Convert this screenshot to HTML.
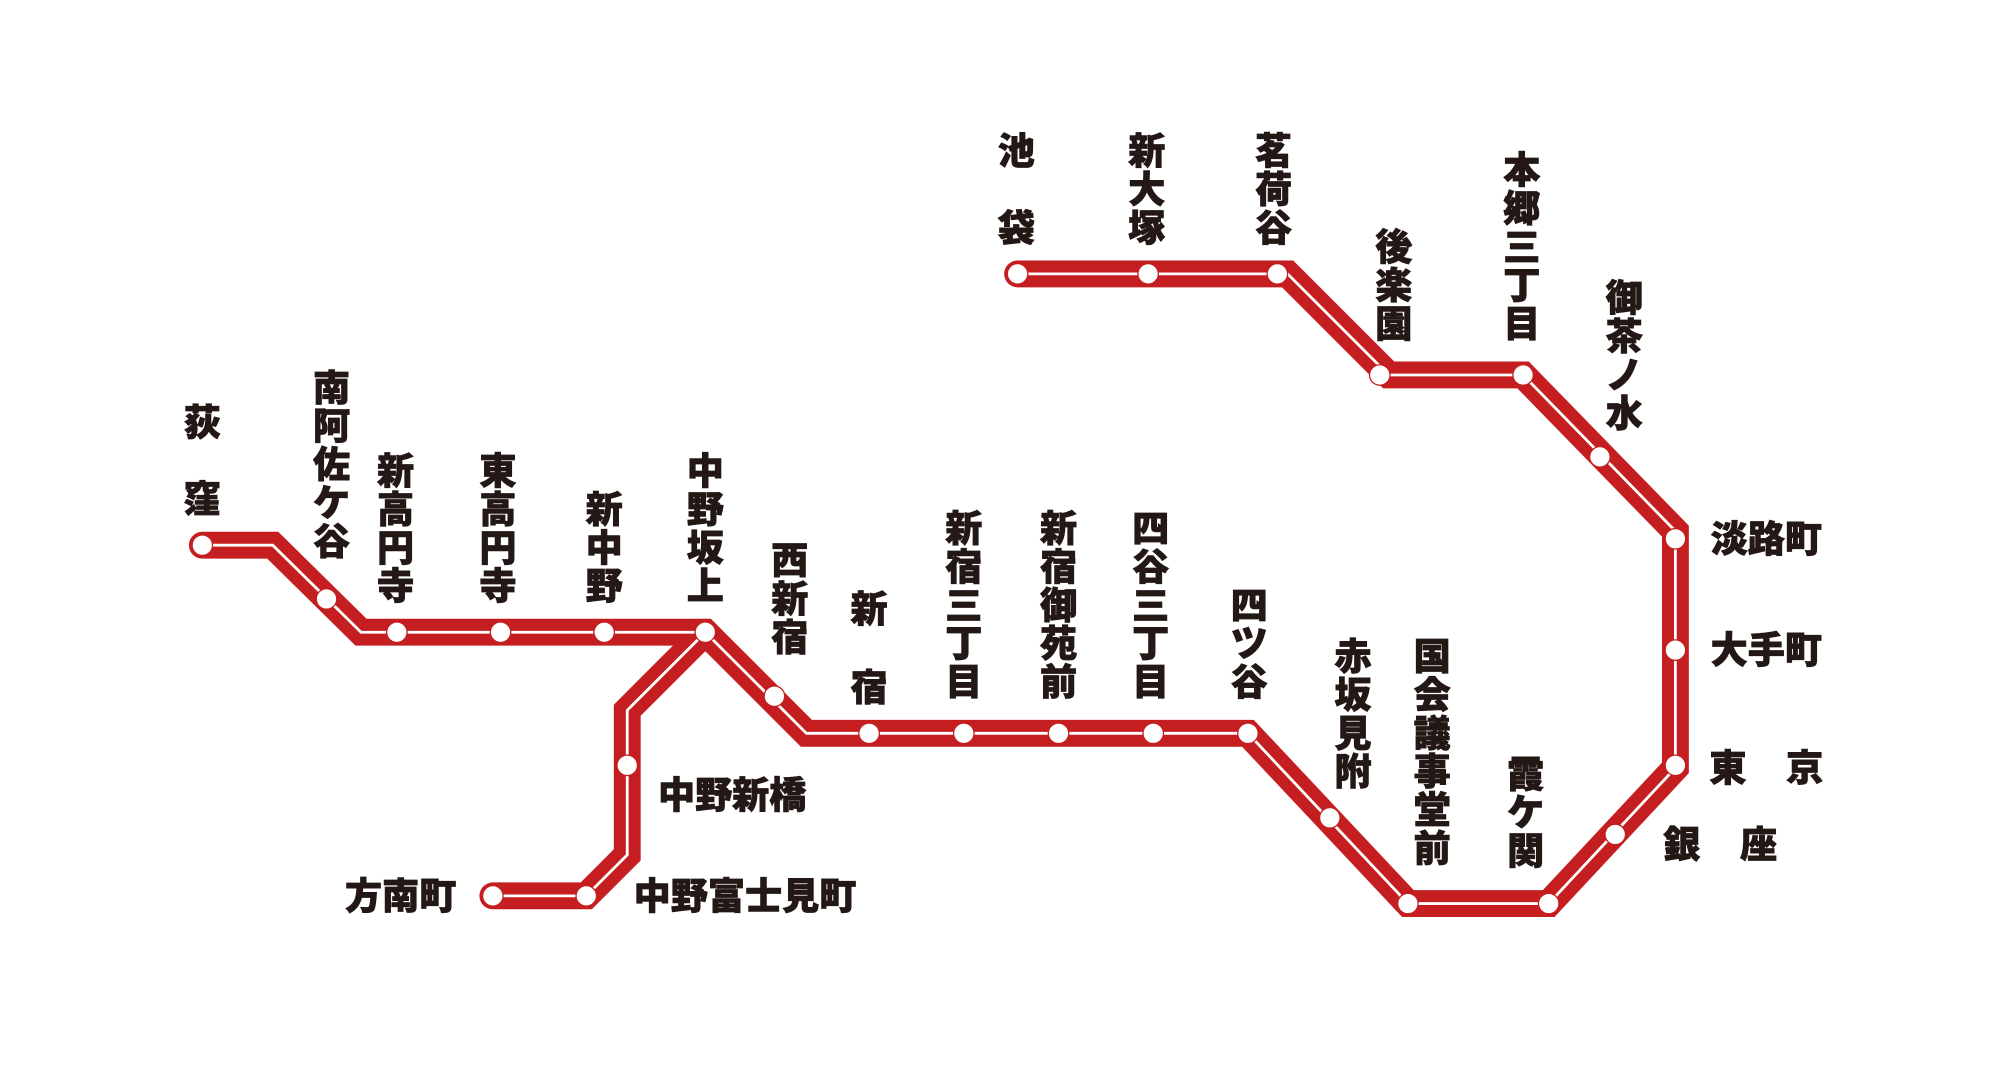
<!DOCTYPE html>
<html><head><meta charset="utf-8"><style>
html,body{margin:0;padding:0;background:#fff;}
svg{display:block}
text{font-family:"Liberation Sans","Noto Sans CJK JP",sans-serif;font-weight:900;font-size:29px;fill:#231815;stroke:#231815;stroke-width:0.6;text-anchor:middle;dominant-baseline:central}
</style></head><body>
<svg width="2007" height="1084" viewBox="0 0 1568 847" xmlns="http://www.w3.org/2000/svg">
<g fill="none" stroke-linejoin="miter" stroke-linecap="round">
<path d="M795,214 L1006,214 L1085,293 L1190,293 L1309,415 L1309,600 L1210,706 L1100,706 L975,573 L630,573 L551,494 L282,494 L213,426 L158,426" stroke="#c41e20" stroke-width="21"/>
<path d="M551,494 L490,555 L490,668 L458,700 L385,700" stroke="#c41e20" stroke-width="21"/>
<path d="M795,214 L1006,214 L1085,293 L1190,293 L1309,415 L1309,600 L1210,706 L1100,706 L975,573 L630,573 L551,494 L282,494 L213,426 L158,426" stroke="#fff" stroke-width="2.2" stroke-linecap="butt"/>
<path d="M551,494 L490,555 L490,668 L458,700 L385,700" stroke="#fff" stroke-width="2.2" stroke-linecap="butt"/>
</g>
<g fill="#fff" stroke="#c41e20" stroke-width="1">
<circle cx="795" cy="214" r="8"/><circle cx="897" cy="214" r="8"/><circle cx="998" cy="214" r="8"/>
<circle cx="1078" cy="293" r="8"/><circle cx="1190" cy="293" r="8"/><circle cx="1250" cy="357" r="8"/>
<circle cx="1309" cy="421" r="8"/><circle cx="1309" cy="508" r="8"/><circle cx="1309" cy="598" r="8"/>
<circle cx="1262" cy="652" r="8"/><circle cx="1210" cy="706" r="8"/><circle cx="1100" cy="706" r="8"/>
<circle cx="1039" cy="639" r="8"/><circle cx="975" cy="573" r="8"/><circle cx="901" cy="573" r="8"/>
<circle cx="827" cy="573" r="8"/><circle cx="753" cy="573" r="8"/><circle cx="679" cy="573" r="8"/>
<circle cx="605" cy="544" r="8"/><circle cx="551" cy="494" r="8"/><circle cx="472" cy="494" r="8"/>
<circle cx="391" cy="494" r="8"/><circle cx="310" cy="494" r="8"/><circle cx="255" cy="468" r="8"/>
<circle cx="158" cy="426" r="8"/><circle cx="490" cy="598" r="8"/><circle cx="458" cy="700" r="8"/>
<circle cx="385" cy="700" r="8"/>
</g>
<g>
<text x="158" y="330">荻</text><text x="158" y="390">窪</text>
<text x="259" y="303">南</text><text x="259" y="333">阿</text><text x="259" y="363">佐</text><text x="259" y="393">ケ</text><text x="259" y="423">谷</text>
<text x="309" y="368">新</text><text x="309" y="398">高</text><text x="309" y="428">円</text><text x="309" y="458">寺</text>
<text x="389" y="368">東</text><text x="389" y="398">高</text><text x="389" y="428">円</text><text x="389" y="458">寺</text>
<text x="472" y="398">新</text><text x="472" y="428">中</text><text x="472" y="458">野</text>
<text x="551" y="368">中</text><text x="551" y="398">野</text><text x="551" y="428">坂</text><text x="551" y="458">上</text>
<text x="617" y="438">西</text><text x="617" y="468">新</text><text x="617" y="498">宿</text>
<text x="679" y="476">新</text><text x="679" y="537">宿</text>
<text x="753" y="413">新</text><text x="753" y="443">宿</text><text x="753" y="473">三</text><text x="753" y="503">丁</text><text x="753" y="533">目</text>
<text x="827" y="413">新</text><text x="827" y="443">宿</text><text x="827" y="473">御</text><text x="827" y="503">苑</text><text x="827" y="533">前</text>
<text x="899" y="413">四</text><text x="899" y="443">谷</text><text x="899" y="473">三</text><text x="899" y="503">丁</text><text x="899" y="533">目</text>
<text x="976" y="473">四</text><text x="976" y="503">ツ</text><text x="976" y="533">谷</text>
<text x="1057" y="513">赤</text><text x="1057" y="543">坂</text><text x="1057" y="573">見</text><text x="1057" y="603">附</text>
<text x="1119" y="513">国</text><text x="1119" y="543">会</text><text x="1119" y="573">議</text><text x="1119" y="603">事</text><text x="1119" y="633">堂</text><text x="1119" y="663">前</text>
<text x="1192" y="605">霞</text><text x="1192" y="635">ケ</text><text x="1192" y="665">関</text>
<text x="794" y="118">池</text><text x="794" y="178">袋</text>
<text x="896" y="118">新</text><text x="896" y="148">大</text><text x="896" y="178">塚</text>
<text x="995" y="118">茗</text><text x="995" y="148">荷</text><text x="995" y="178">谷</text>
<text x="1089" y="193">後</text><text x="1089" y="223">楽</text><text x="1089" y="253">園</text>
<text x="1189" y="133">本</text><text x="1189" y="163">郷</text><text x="1189" y="193">三</text><text x="1189" y="223">丁</text><text x="1189" y="253">目</text>
<text x="1269" y="233">御</text><text x="1269" y="263">茶</text><text x="1269" y="293">ノ</text><text x="1269" y="323">水</text>
<text x="1380" y="421">淡路町</text>
<text x="1380" y="508">大手町</text>
<text x="1350" y="600">東</text><text x="1410" y="600">京</text>
<text x="1314" y="660">銀</text><text x="1374" y="660">座</text>
<text x="572" y="621">中野新橋</text>
<text x="313" y="700">方南町</text>
<text x="582" y="700">中野富士見町</text>
</g>
</svg>
</body></html>
